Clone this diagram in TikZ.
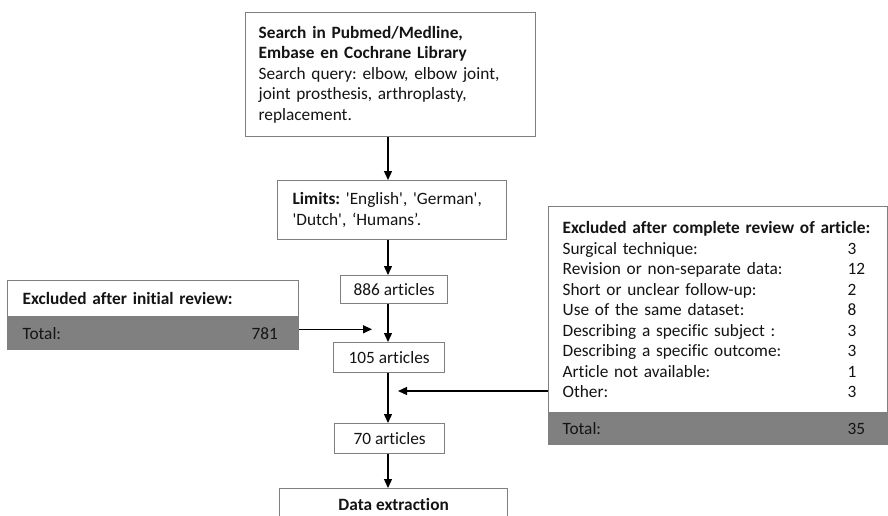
\documentclass[tikz,border=0pt]{standalone}
\usepackage{fontspec}
\setmainfont{Carlito}[Ligatures={NoCommon}]
\usepackage{xcolor}
\usetikzlibrary{positioning,arrows.meta,calc}
\definecolor{rim}{HTML}{7F7F7F}
\definecolor{band}{HTML}{808080}
\definecolor{ink}{HTML}{141414}
\frenchspacing

\begin{document}
\begin{tikzpicture}[x=1pt, y=-1pt,
  bloc/.style={
    draw=rim, line width=1.3pt, fill=white, text=ink,
    inner xsep=13pt, inner ysep=0pt, align=left, anchor=north west,
    font=\fontsize{17.3}{20.5}\selectfont
  },
  nb/.style={bloc, align=center, inner xsep=0pt},
  bandbox/.style={bloc, fill=band},
  fl/.style={-{Triangle[length=9pt,width=8pt]}, line width=1.3pt, black}
]
  \clip (0,0) rectangle (888,516);
  \fill[white] (0,0) rectangle (888,516);

  % --- Noeuds ---
  \node[bloc, text width=264pt, minimum height=124pt] (srch) at (245,12)
    {\textbf{Search in Pubmed/Medline,}\\
     \textbf{Embase en Cochrane Library}\\
     Search query: elbow, elbow joint,\\
     joint prosthesis, arthroplasty,\\
     replacement.};

  \node[bloc, inner xsep=15pt, text width=199pt, minimum height=59pt] (lim) at (277,180)
    {\textbf{Limits:} \textquotesingle English\textquotesingle, \textquotesingle German\textquotesingle,\\
     \textquotesingle Dutch\textquotesingle, ‘Humans’.};

  \node[nb, minimum width=107pt, minimum height=28pt] (n886) at (340,275) {886 articles};
  \node[nb, minimum width=111pt, minimum height=30pt] (n105) at (333,342) {105 articles};
  \node[nb, minimum width=110pt, minimum height=30pt] (n70)  at (334,423) {70 articles};
  \node[nb, minimum width=228pt, minimum height=32pt] (data) at (279,488) {\textbf{Data extraction}};

  % --- Exclusions ---
  \node[bloc, inner xsep=15pt, text width=261pt, minimum height=36pt] (exA) at (7,280)
    {\textbf{Excluded after initial review:}};
  \node[bandbox, inner xsep=15pt, text width=261pt, minimum height=31pt] (totA) at (exA.south west)
    {\makebox[229pt][l]{Total:}781};

  \node[bloc, inner xsep=14pt, text width=311pt, minimum height=206pt] (exB) at (548,206)
    {\textbf{Excluded after complete review of article:}\\
     \makebox[285pt][l]{Surgical technique:}3\\
     \makebox[285pt][l]{Revision or non-separate data:}12\\
     \makebox[285pt][l]{Short or unclear follow-up:}2\\
     \makebox[285pt][l]{Use of the same dataset:}8\\
     \makebox[285pt][l]{Describing a specific subject :}3\\
     \makebox[285pt][l]{Describing a specific outcome:}3\\
     \makebox[285pt][l]{Article not available:}1\\
     \makebox[285pt][l]{Other:}3};
  \node[bandbox, inner xsep=14pt, text width=311pt, minimum height=30pt] (totB) at (exB.south west)
    {\makebox[285pt][l]{Total:}35};

  % --- Flèches ---
  \coordinate (spine) at (388,0);
  \draw[fl] (srch.south -| spine) -- (lim.north -| spine);
  \draw[fl] (lim.south -| spine) -- (n886.north -| spine);
  \draw[fl] (n886.south -| spine) -- (n105.north -| spine);
  \draw[fl] (n105.south -| spine) -- (n70.north -| spine);
  \draw[fl] (n70.south -| spine) -- (data.north -| spine);

  % exclusions vers la colonne centrale
  \coordinate (inA) at ($(totA.north east)+(0,12)$);
  \draw[fl, shorten >=16pt] (inA) -- (inA -| spine);
  \coordinate (inB) at ($(exB.north west)+(0,185)$);
  \draw[fl, shorten >=10pt] (inB) -- (inB -| spine);

\end{tikzpicture}
\end{document}
